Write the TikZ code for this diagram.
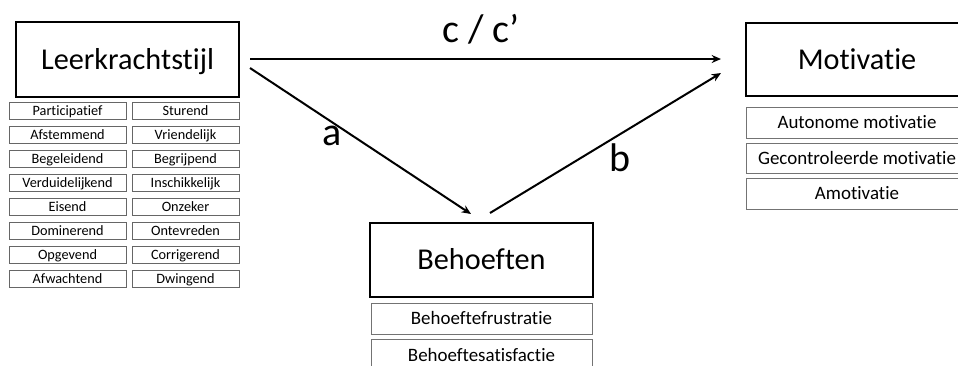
\documentclass[tikz,border=0pt]{standalone}
\usepackage{fontspec}
\setmainfont{Carlito}[Ligatures=NoCommon]
\usetikzlibrary{arrows.meta}
\begin{document}
\begin{tikzpicture}[x=0.75pt,y=-0.75pt,
  mainbox/.style={draw=black,line width=1.7pt,inner sep=0pt,text height=16.3pt,text depth=1.8pt,font=\fontsize{22.7pt}{26pt}\selectfont},
  subbox/.style={draw=black!55,line width=0.6pt,inner sep=0pt,text height=10.2pt,text depth=1.1pt,font=\fontsize{14.2pt}{16pt}\selectfont},
  itembox/.style={draw=black!60,line width=0.6pt,inner sep=0pt,minimum width=87.75pt,minimum height=12.75pt,text height=7.8pt,text depth=0.9pt,font=\fontsize{10.7pt}{12pt}\selectfont},
  conn/.style={line width=1.5pt,-{Stealth[length=7pt,width=6pt]}},
  lbl/.style={font=\fontsize{30pt}{34pt}\selectfont}]
\useasboundingbox (0,0) rectangle (958,365);

% main constructs
\node[mainbox,minimum width=167.25pt,minimum height=56.25pt] (lk) at (127.5,59.5) {Leerkrachtstijl};
\node[mainbox,minimum width=167.25pt,minimum height=55.5pt] (beh) at (481.5,260) {Behoeften};
\node[mainbox,minimum width=166.5pt,minimum height=54.75pt] (mot) at (857,59.5) {Motivatie};

% teacher style items, two columns
\foreach \l/\r [count=\i from 0] in {Participatief/Sturend,Afstemmend/Vriendelijk,Begeleidend/Begrijpend,Verduidelijkend/Inschikkelijk,Eisend/Onzeker,Dominerend/Ontevreden,Opgevend/Corrigerend,Afwachtend/Dwingend}{
  \node[itembox] (L\i) at (67.5,{111+\i*24}) {\l};
  \node[itembox,minimum width=80.25pt] (R\i) at (185.5,{111+\i*24}) {\r};
}

% needs items
\node[subbox,minimum width=165.75pt,minimum height=23.25pt] (bf) at (481.5,318.5) {Behoeftefrustratie};
\node[subbox,minimum width=165.75pt,minimum height=23.25pt] (bs) at (481.5,355) {Behoeftesatisfactie};

% motivation items
\node[subbox,minimum width=165.75pt,minimum height=23.25pt] (am) at (857,122.5) {Autonome motivatie};
\node[subbox,minimum width=165.75pt,minimum height=22.5pt] (gm) at (857,158) {Gecontroleerde motivatie};
\node[subbox,minimum width=165.75pt,minimum height=23.25pt] (amo) at (857,193.5) {Amotivatie};

% path endpoints
\coordinate (cS) at (250,59);
\coordinate (cE) at (721,59);
\coordinate (aS) at (250,68);
\coordinate (aE) at (471,214);
\coordinate (bS) at (490,213);
\coordinate (bE) at (721,73);

\draw[conn] (cS) -- (cE);
\draw[conn] (aS) -- (aE);
\draw[conn] (bS) -- (bE);

\node[lbl] (c) at (481,29) {c / c’};
\node[lbl] (a) at (332,136) {a};
\node[lbl] (b) at (620,158) {b};
\end{tikzpicture}
\end{document}
